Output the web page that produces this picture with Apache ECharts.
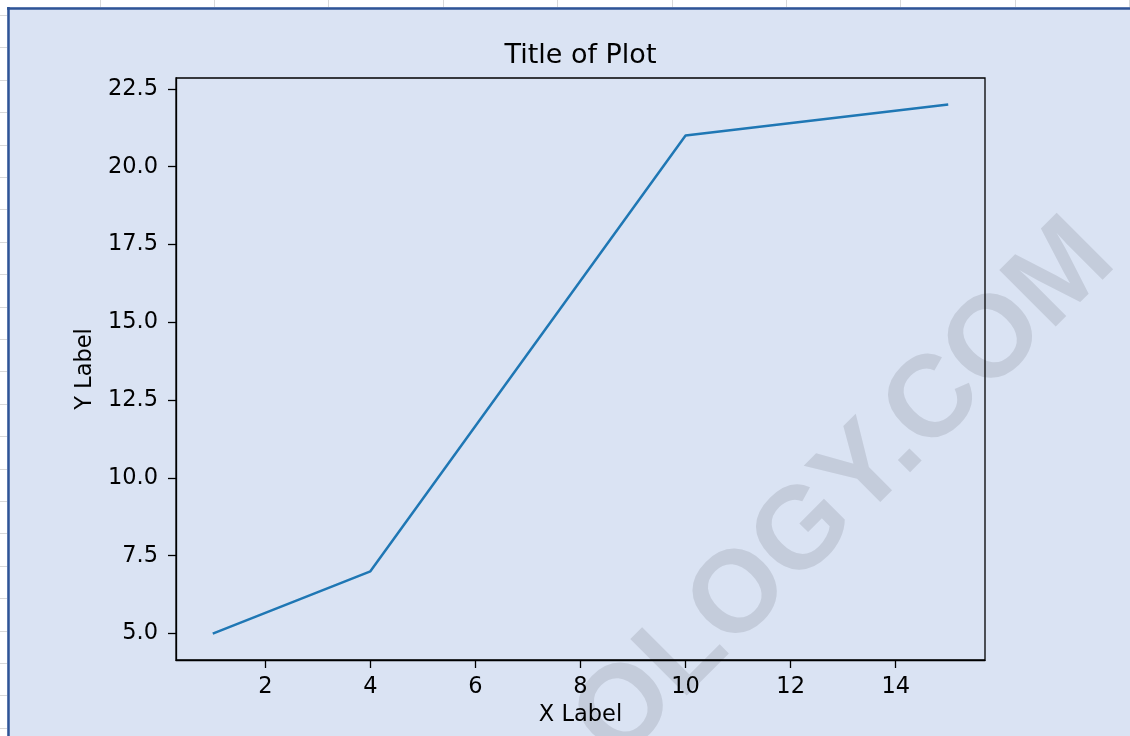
<!DOCTYPE html>
<html>
<head>
<meta charset="utf-8">
<script src="https://cdn.jsdelivr.net/npm/echarts@6/dist/echarts.min.js"></script>
<style>
html, body { margin: 0; padding: 0; background: #ffffff; }
#chart { width: 1130px; height: 736px; }
</style>
</head>
<body>
<div id="chart"></div>
<script>
// ---- data ----
const xValues = [1, 4, 10, 15];
const yValues = [5, 7, 21, 22];
const xTicks = [2, 4, 6, 8, 10, 12, 14];
const yTicks = [5, 7.5, 10, 12.5, 15, 17.5, 20, 22.5];
const titleText = 'Title of Plot';
const xLabel = 'X Label';
const yLabel = 'Y Label';
const watermarkText = 'OLOGY.COM';

const W = 1130, H = 736;
const graphics = [];
// spreadsheet backdrop
graphics.push({ type: 'rect', z: -20, silent: true, shape: { x: 0, y: 0, width: W, height: H }, style: { fill: '#ffffff' } });
for (let i = 0; i < 10; i++) {
  const gx = Math.round(99.5 + i * 114.4) + 0.5;
  graphics.push({ type: 'line', z: -19, silent: true, shape: { x1: gx, y1: 0, x2: gx, y2: 8 }, style: { stroke: '#d9d9d9', lineWidth: 1 } });
}
for (let j = 0; j < 23; j++) {
  const gy = Math.round(15 + j * 32.4) + 0.5;
  graphics.push({ type: 'line', z: -19, silent: true, shape: { x1: 0, y1: gy, x2: 7, y2: gy }, style: { stroke: '#d9d9d9', lineWidth: 1 } });
}
graphics.push({ type: 'rect', z: -18, silent: true, shape: { x: 7, y: 7, width: W - 7, height: H - 7 }, style: { fill: '#dae3f3' } });
graphics.push({ type: 'line', z: -17, silent: true, shape: { x1: 8.5, y1: 7, x2: 8.5, y2: H }, style: { stroke: '#2f5496', lineWidth: 2.5 } });
graphics.push({ type: 'line', z: -17, silent: true, shape: { x1: 7, y1: 8.5, x2: W, y2: 8.5 }, style: { stroke: '#2f5496', lineWidth: 2.5 } });
// watermark
graphics.push({
  type: 'text', z: -10, silent: true, x: 1096, y: 241, rotation: Math.PI / 4,
  style: { text: watermarkText, fill: '#c4ccdb', font: 'bold 116px "Liberation Sans", Arial, sans-serif', align: 'right', verticalAlign: 'middle' }
});
// title
graphics.push({
  type: 'text', z: 5, x: 580.5, y: 55.5,
  style: { text: titleText, fill: '#000000', font: '27px "DejaVu Sans", sans-serif', align: 'center', verticalAlign: 'middle' }
});

const chart = echarts.init(document.getElementById('chart'), null, { renderer: 'canvas' });
chart.setOption({
  animation: false,
  backgroundColor: 'transparent',
  textStyle: { fontFamily: '"DejaVu Sans", sans-serif' },
  graphic: { elements: graphics },
  grid: { left: 176, top: 78, width: 809, height: 582, show: true, borderColor: '#000000', borderWidth: 1.3, backgroundColor: 'transparent', containLabel: false },
  xAxis: {
    type: 'value', min: 0.3, max: 15.7,
    name: xLabel, nameLocation: 'middle', nameGap: 42,
    nameTextStyle: { fontSize: 22.5, color: '#000', fontFamily: '"DejaVu Sans", sans-serif' },
    axisLine: { show: true, lineStyle: { color: '#000', width: 1.3 } },
    axisTick: { show: true, customValues: xTicks, length: 8, lineStyle: { color: '#000', width: 1.3 } },
    axisLabel: { customValues: xTicks, margin: 16, fontSize: 22.5, color: '#000', formatter: v => String(v) },
    splitLine: { show: false }
  },
  yAxis: {
    type: 'value', min: 4.15, max: 22.85,
    name: yLabel, nameLocation: 'middle', nameGap: 74, nameRotate: 90,
    nameTextStyle: { fontSize: 22.5, color: '#000', fontFamily: '"DejaVu Sans", sans-serif' },
    axisLine: { show: true, lineStyle: { color: '#000', width: 1.3 } },
    axisTick: { show: true, customValues: yTicks, length: 8, lineStyle: { color: '#000', width: 1.3 } },
    axisLabel: { customValues: yTicks, margin: 18, fontSize: 22.5, color: '#000', formatter: v => Number(v).toFixed(1) },
    splitLine: { show: false }
  },
  series: [{
    type: 'line',
    data: xValues.map((x, i) => [x, yValues[i]]),
    showSymbol: false,
    symbol: 'none',
    lineStyle: { color: '#1f77b4', width: 2.5 },
    z: 3
  }]
});
</script>
</body>
</html>
